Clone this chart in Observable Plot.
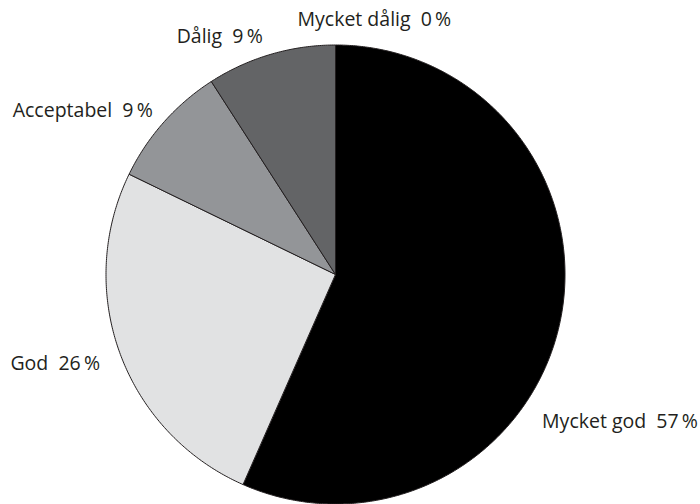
<!DOCTYPE html>
<html>
<head>
<meta charset="utf-8">
<script src="https://cdn.jsdelivr.net/npm/d3@7"></script>
<script src="https://cdn.jsdelivr.net/npm/@observablehq/plot@0.6"></script>
<style>
  html, body { margin: 0; padding: 0; background: #ffffff; }
  #chart { width: 700px; height: 504px; }
</style>
</head>
<body>
<div id="chart"></div>
<script>
// ---- data ----
const categories = ["Mycket god", "God", "Acceptabel", "Dålig", "Mycket dålig"];
const shares = [56.6, 25.6, 8.7, 9.1, 0.0];   // percent, drawn clockwise from 12 o'clock
const percentLabels = ["57", "26", "9", "9", "0"];

// ---- styles ----
const sliceColors = ["#000000", "#e1e2e3", "#939598", "#636466", "#404041"];
const labelNudge = {
  "Mycket god":   {anchor: "start", dx: -18, dy: 100},
  "God":          {anchor: "end",   dx: -20, dy: 10},
  "Acceptabel":   {anchor: "end",   dx: -11, dy: -11},
  "Dålig":        {anchor: "end",   dx: -8,  dy: -18},
  "Mycket dålig": {anchor: "start", dx: -38, dy: -25}
};

const W = 700, H = 504;
const cx = 335, cy = 274, R = 229.5;  // pie placement in pixels (layout)

// pie angles via d3.pie (clockwise from top)
const pie = d3.pie().sort(null).value(d => d.value)
  (categories.map((c, i) => ({category: c, value: shares[i]})));

// polygon outline points for each slice, in unit-circle data space (y up)
const slicePoints = [];
pie.forEach(p => {
  const c = p.data.category;
  const a0 = p.startAngle, a1 = p.endAngle;
  const n = Math.max(1, Math.ceil((a1 - a0) / (Math.PI / 360)));
  slicePoints.push({category: c, x: 0, y: 0});
  for (let k = 0; k <= n; k++) {
    const a = a0 + (a1 - a0) * k / n;
    slicePoints.push({category: c, x: Math.sin(a), y: Math.cos(a)});
  }
  slicePoints.push({category: c, x: 0, y: 0});
});

// label anchors at mid-angle on the rim
const labelData = pie.map((p, i) => {
  const a = (p.startAngle + p.endAngle) / 2;
  return {
    category: p.data.category,
    x: Math.sin(a), y: Math.cos(a),
    text: p.data.category + "\u00a0 " + percentLabels[i] + "\u2009%"
  };
});

const xDomain = [-cx / R, (W - cx) / R];
const yDomain = [-(H - cy) / R, cy / R];

const textMarks = labelData.map(l => {
  const s = labelNudge[l.category];
  return Plot.text([l], {
    x: "x", y: "y", text: "text",
    textAnchor: s.anchor, dx: s.dx, dy: s.dy,
    lineAnchor: "middle",
    fontSize: 19.5, fill: "#231f20",
    fontFamily: "'Open Sans', sans-serif"
  });
});

const chart = Plot.plot({
  width: W, height: H,
  margin: 0,
  x: {domain: xDomain, axis: null},
  y: {domain: yDomain, axis: null},
  color: {domain: categories, range: sliceColors},
  style: {background: "#ffffff", fontFamily: "'Open Sans', sans-serif"},
  marks: [
    Plot.line(slicePoints, {
      x: "x", y: "y", z: "category", fill: "category",
      stroke: "#231f20", strokeWidth: 1, strokeLinejoin: "miter", curve: "linear"
    }),
    ...textMarks
  ]
});

document.getElementById("chart").appendChild(chart);
</script>
</body>
</html>
